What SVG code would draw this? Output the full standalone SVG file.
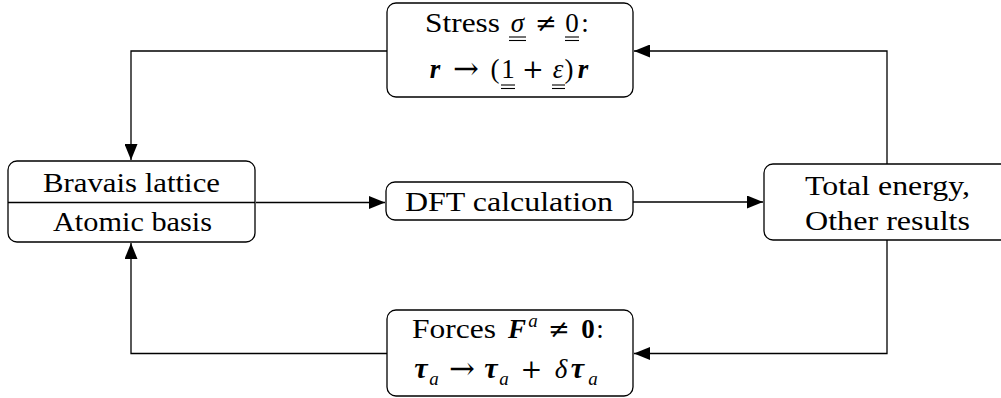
<svg xmlns="http://www.w3.org/2000/svg" width="1001" height="398" viewBox="0 0 1001 398">
<defs>
<marker id="ah" markerUnits="userSpaceOnUse" markerWidth="16" markerHeight="13" refX="16" refY="6.5" orient="auto">
<path d="M0,0 L16,6.5 L0,13 Z" fill="#000"/>
</marker>
<style>
.box{fill:#fff;stroke:#000;stroke-width:1.3}
text{font-family:'Liberation Serif','Times New Roman',Tinos,'Noto Serif','DejaVu Serif',FreeSerif,serif;font-size:27px;fill:#000}
.m{text-anchor:middle}
.i{font-style:italic}
.bi{font-style:italic;font-weight:bold}
.b{font-weight:bold}
.s{font-size:19px}
.g{font-size:30px}
.op{font-family:'DejaVu Serif',serif;font-size:26px}
.ar{font-family:'DejaVu Serif',serif;font-size:31px}
.c{fill:none;stroke:#000;stroke-width:1.3}
.u{stroke:#000;stroke-width:1.1}
</style>
</defs>
<g id="connectors">
<path class="c" d="M256,202.5 H385" marker-end="url(#ah)"/>
<path class="c" d="M633,202 H763" marker-end="url(#ah)"/>
<path class="c" d="M887,164 V51 H634" marker-end="url(#ah)"/>
<path class="c" d="M387,51 H131 V160" marker-end="url(#ah)"/>
<path class="c" d="M887,240 V353.5 H634" marker-end="url(#ah)"/>
<path class="c" d="M387,353.5 H131 V243" marker-end="url(#ah)"/>
</g>
<g id="lattice">
<rect class="box" x="8" y="161" width="247" height="81" rx="9"/>
<line class="c" x1="8" y1="202.5" x2="255" y2="202.5"/>
<text class="m" x="131.5" y="192" textLength="177" lengthAdjust="spacingAndGlyphs">Bravais lattice</text>
<text class="m" x="132.5" y="231" textLength="159" lengthAdjust="spacingAndGlyphs">Atomic basis</text>
</g>
<g id="dft">
<rect class="box" x="386" y="182" width="247" height="38" rx="9"/>
<text class="m" x="509" y="211" textLength="208" lengthAdjust="spacingAndGlyphs">DFT calculation</text>
</g>
<g id="results">
<rect class="box" x="764" y="164" width="300" height="76" rx="9"/>
<text class="m" x="887.5" y="195" textLength="165" lengthAdjust="spacingAndGlyphs">Total energy,</text>
<text class="m" x="887.5" y="230" textLength="165" lengthAdjust="spacingAndGlyphs">Other results</text>
</g>
<g id="stress">
<rect class="box" x="387" y="3" width="246" height="94" rx="9"/>
<text x="425" y="32" textLength="75" lengthAdjust="spacingAndGlyphs">Stress</text>
<text class="i m" x="517.5" y="32">σ</text>
<text class="op m" x="546" y="32">≠</text>
<text class="m" x="572" y="32">0</text>
<text class="m" x="585" y="32">:</text>
<line class="u" x1="509" y1="37" x2="526" y2="37"/>
<line class="u" x1="509" y1="40.5" x2="526" y2="40.5"/>
<line class="u" x1="565" y1="37" x2="579" y2="37"/>
<line class="u" x1="565" y1="40.5" x2="579" y2="40.5"/>
<text class="bi m" x="435" y="78">r</text>
<text class="ar m" x="466" y="79">→</text>
<text class="m" x="495" y="78">(</text>
<text class="m" x="508" y="78">1</text>
<text class="op m" x="533" y="78">+</text>
<text class="i m" x="558" y="78">ε</text>
<text class="m" x="569" y="78">)</text>
<text class="bi m" x="583" y="78">r</text>
<line class="u" x1="501" y1="85" x2="515" y2="85"/>
<line class="u" x1="501" y1="88.5" x2="515" y2="88.5"/>
<line class="u" x1="552" y1="85" x2="565" y2="85"/>
<line class="u" x1="552" y1="88.5" x2="565" y2="88.5"/>
</g>
<g id="forces">
<rect class="box" x="387" y="310" width="246" height="86" rx="9"/>
<text x="412" y="338" textLength="84" lengthAdjust="spacingAndGlyphs">Forces</text>
<text class="bi m" x="517" y="338">F</text>
<text class="i s m" x="533" y="327">a</text>
<text class="op m" x="559" y="338">≠</text>
<text class="b m" x="588" y="338">0</text>
<text class="m" x="600" y="338">:</text>
<text class="bi g m" x="421" y="378">τ</text>
<text class="i s m" x="434" y="385">a</text>
<text class="ar m" x="462" y="379">→</text>
<text class="bi g m" x="491" y="378">τ</text>
<text class="i s m" x="504" y="385">a</text>
<text class="op m" x="531.5" y="378">+</text>
<text class="i m" x="561" y="378">δ</text>
<text class="bi g m" x="577.5" y="378">τ</text>
<text class="i s m" x="593" y="385">a</text>
</g>
</svg>
